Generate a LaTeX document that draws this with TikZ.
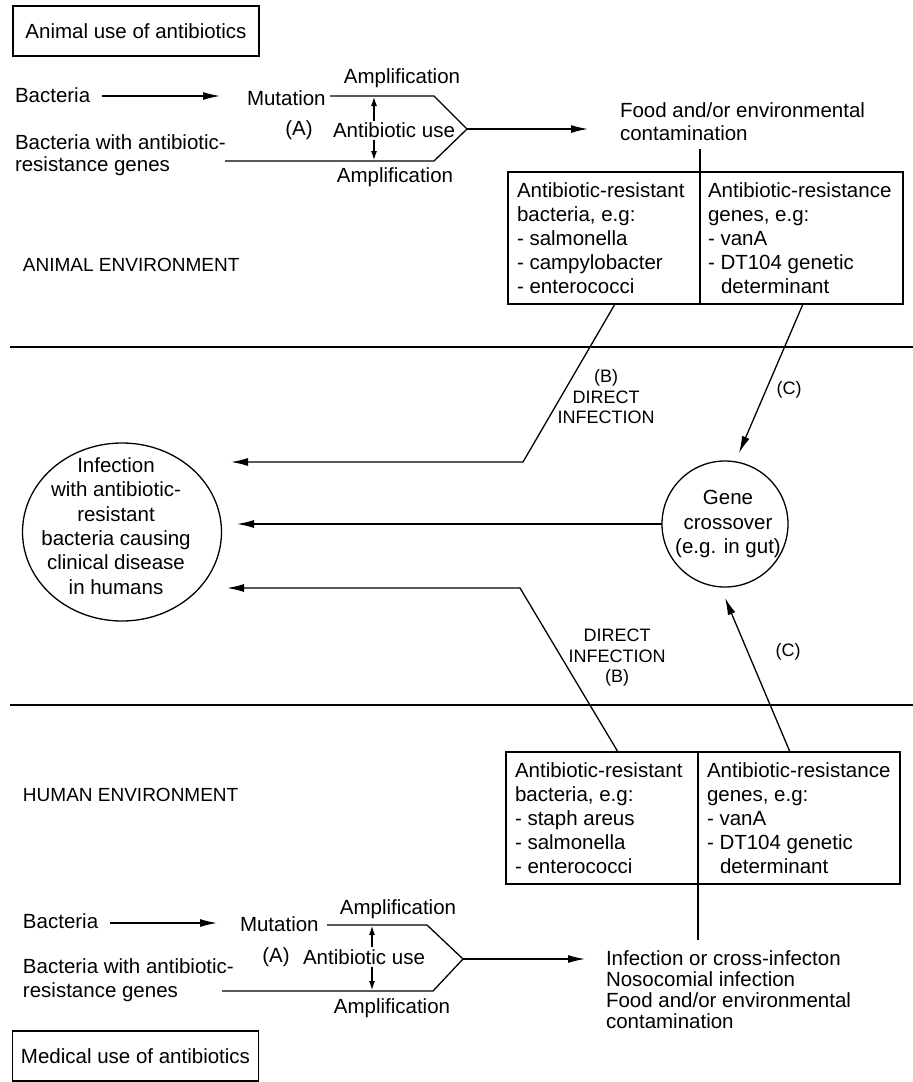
\documentclass[tikz,border=0pt]{standalone}
\usepackage{fontspec}
\setmainfont{Liberation Sans}
\usetikzlibrary{arrows.meta,shapes.geometric,calc}
\begin{document}
\begin{tikzpicture}[x=1pt,y=-1pt,
  every node/.style={inner sep=0pt,outer sep=0pt},
  txt/.style={font=\fontsize{20.5}{24}\selectfont,align=left},
  ctxt/.style={font=\fontsize{20.5}{24.4}\selectfont,align=center},
  sml/.style={font=\fontsize{18}{20.5}\selectfont,align=center},
  env/.style={font=\fontsize{19}{22}\selectfont},
  ln/.style={line width=1.3pt},
  arr/.style={line width=1.3pt,-{Latex[length=17pt,width=8pt]}},
  sarr/.style={line width=1.1pt,-{Latex[length=9pt,width=6pt]}},
  cellbox/.style={draw,line width=1.3pt,minimum height=132pt,anchor=north west},
  titlebox/.style={draw,line width=1.3pt,minimum width=246pt,minimum height=50pt,font=\fontsize{20.5}{24}\selectfont}
]
\useasboundingbox (0,0) rectangle (913,1082);

% ---------------- top: animal use ----------------
\node[titlebox] (animal) at (136,31) {Animal use of antibiotics};

\node[txt,anchor=west] (bact1) at (15,95) {Bacteria};
\coordinate (ba1s) at (102,96);
\coordinate (ba1e) at (220,96);
\draw[arr] (ba1s) -- (ba1e);
\node[txt,anchor=west] (mut1) at (247,98) {Mutation};
\node[txt,anchor=north west,font=\fontsize{20.5}{22}\selectfont] (bres1) at (15,134.5) {Bacteria with antibiotic-\\resistance genes};

\coordinate (p1a) at (330,96);
\coordinate (p1b) at (434,96);
\coordinate (tip1) at (467,129);
\coordinate (p1c) at (434,161);
\coordinate (p1d) at (225,161);
\draw[ln] (p1a) -- (p1b) -- (tip1) -- (p1c) -- (p1d);

\node[txt] (amp1t) at (402,78) {Amplification};
\node[txt] (amp1b) at (395,177) {Amplification};
\node[txt] (a1) at (299,130) {(A)};
\node[txt] (use1) at (394,130) {Antibiotic use};
\coordinate (da1a) at (374,121);
\coordinate (da1b) at (374,97);
\coordinate (da1c) at (374,140);
\coordinate (da1d) at (374,160);
\draw[sarr] (da1a) -- (da1b);
\draw[sarr] (da1c) -- (da1d);

\coordinate (fa1) at (588,129);
\draw[arr] (tip1) -- (fa1);
\node[txt,anchor=north west,font=\fontsize{20.5}{23}\selectfont] (food1) at (620,102.5) {Food and/or environmental\\contamination};

% top boxes
\node[cellbox,minimum width=192pt] (cL1) at (508,172) {};
\node[cellbox,minimum width=203pt] (cR1) at (700,172) {};
\coordinate (v1) at (700,149);
\draw[ln] (v1) -- (cR1.north west);
\node[txt,anchor=north west] (tL1) at (517,182.5) {Antibiotic-resistant\\bacteria, e.g:\\- salmonella\\- campylobacter\\- enterococci};
\node[txt,anchor=north west] (tR1) at (708,182.5) {Antibiotic-resistance\\genes, e.g:\\- vanA\\- DT104 genetic\\\hspace*{13pt}determinant};

\node[env,anchor=west] (animalenv) at (23,265) {ANIMAL ENVIRONMENT};

% separator 1
\coordinate (s1a) at (10,347);
\coordinate (s1b) at (913,347);
\draw[ln] (s1a) -- (s1b);

% ---------------- middle ----------------
\node[draw,ellipse,line width=1.3pt,minimum width=199pt,minimum height=178pt] (inf) at (122,532) {};
\node[ctxt] (inftxt) at (116,526) {Infection\\with antibiotic-\\resistant\\bacteria causing\\clinical disease\\in humans};

\node[draw,circle,line width=1.3pt,minimum size=126pt] (gene) at (725,524) {};
\node[ctxt] (genetxt) at (728,524) {Gene\\crossover\\(e.g. in gut)};

% B upper
\coordinate (b1s) at (615,304);
\coordinate (b1k) at (523,462);
\coordinate (b1e) at (231,462);
\draw[arr] (b1s) -- (b1k) -- (b1e);
\node[sml] (b1lab) at (606,397) {(B)\\DIRECT\\INFECTION};

% C upper
\coordinate (c1s) at (803,304);
\coordinate (c1e) at (739,453);
\draw[arr] (c1s) -- (c1e);
\node[sml] (c1lab) at (789,390) {(C)};

% middle arrow
\coordinate (m1e) at (237,524);
\draw[arr] (gene.west) -- (m1e);

% B lower
\coordinate (b2s) at (618,752);
\coordinate (b2k) at (520,588);
\coordinate (b2e) at (227,588);
\draw[arr] (b2s) -- (b2k) -- (b2e);
\node[sml] (b2lab) at (617,658) {DIRECT\\INFECTION\\(B)};

% C lower
\coordinate (c2s) at (790,752);
\coordinate (c2e) at (725,598);
\draw[arr] (c2s) -- (c2e);
\node[sml] (c2lab) at (788,652) {(C)};

% separator 2
\coordinate (s2a) at (10,705);
\coordinate (s2b) at (913,705);
\draw[ln] (s2a) -- (s2b);

% ---------------- bottom: human ----------------
\node[env,anchor=west] (humanenv) at (23,795) {HUMAN ENVIRONMENT};

\node[cellbox,minimum width=192pt] (cL2) at (506,752) {};
\node[cellbox,minimum width=202pt] (cR2) at (698,752) {};
\node[txt,anchor=north west] (tL2) at (515,762.5) {Antibiotic-resistant\\bacteria, e.g:\\- staph areus\\- salmonella\\- enterococci};
\node[txt,anchor=north west] (tR2) at (707,762.5) {Antibiotic-resistance\\genes, e.g:\\- vanA\\- DT104 genetic\\\hspace*{13pt}determinant};
\coordinate (v2) at (698,940);
\draw[ln] (cR2.south west) -- (v2);

\node[txt,anchor=west] (bact2) at (23,921) {Bacteria};
\coordinate (ba2s) at (110,923);
\coordinate (ba2e) at (217,923);
\draw[arr] (ba2s) -- (ba2e);
\node[txt,anchor=west] (mut2) at (240,924) {Mutation};
\node[txt,anchor=north west,font=\fontsize{20.5}{24}\selectfont] (bres2) at (23,958.5) {Bacteria with antibiotic-\\resistance genes};

\coordinate (p2a) at (327,925);
\coordinate (p2b) at (427,925);
\coordinate (tip2) at (463,959);
\coordinate (p2c) at (433,991);
\coordinate (p2d) at (222,991);
\draw[ln] (p2a) -- (p2b) -- (tip2) -- (p2c) -- (p2d);

\node[txt] (amp2t) at (398,909) {Amplification};
\node[txt] (amp2b) at (392,1008) {Amplification};
\node[txt] (a2) at (276,957) {(A)};
\node[txt] (use2) at (364,957) {Antibiotic use};
\coordinate (da2a) at (372,947);
\coordinate (da2b) at (372,926);
\coordinate (da2c) at (372,967);
\coordinate (da2d) at (372,990);
\draw[sarr] (da2a) -- (da2b);
\draw[sarr] (da2c) -- (da2d);

\coordinate (fa2) at (585,959);
\draw[arr] (tip2) -- (fa2);
\node[txt,anchor=north west,font=\fontsize{20.5}{21}\selectfont] (inf2) at (606,950.5) {Infection or cross-infecton\\Nosocomial infection\\Food and/or environmental\\contamination};

\node[titlebox] (medical) at (135.5,1056) {Medical use of antibiotics};
\end{tikzpicture}
\end{document}
